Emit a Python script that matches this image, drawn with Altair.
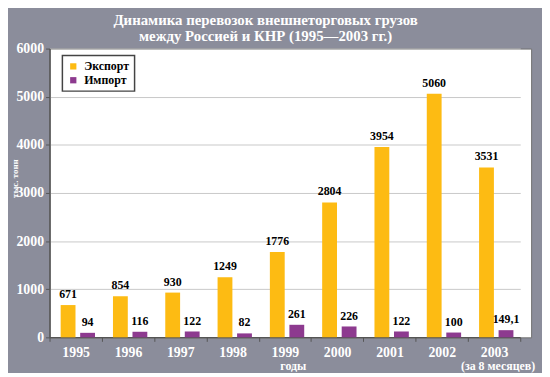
import altair as alt
import pandas as pd

years = ["1995", "1996", "1997", "1998", "1999", "2000", "2001", "2002", "2003"]
export_vals = [671, 854, 930, 1249, 1776, 2804, 3954, 5060, 3531]
import_vals = [94, 116, 122, 82, 261, 226, 122, 100, 149.1]
export_labels = ["671", "854", "930", "1249", "1776", "2804", "3954", "5060", "3531"]
import_labels = ["94", "116", "122", "82", "261", "226", "122", "100", "149,1"]
series_names = ["Экспорт", "Импорт"]
series_colors = ["#fdbb13", "#8d3a8f"]
y_ticks = [0, 1000, 2000, 3000, 4000, 5000, 6000]
title_lines = ["Динамика перевозок внешнеторговых грузов",
               "между Россией и КНР (1995—2003 гг.)"]
x_title = "годы"
y_title = "тыс. тонн"
note_year = ["2003"]
note_text = ["(за 8 месяцев)"]

rows = []
for i, yr in enumerate(years):
    rows.append({"year": yr, "series": series_names[0], "value": export_vals[i], "label": export_labels[i]})
    rows.append({"year": yr, "series": series_names[1], "value": import_vals[i], "label": import_labels[i]})
df = pd.DataFrame(rows)
notes = pd.DataFrame({"year": note_year, "note": note_text})

FONT = "Liberation Serif"
W_BAND = 476
W = 487
H = 292

x_enc = alt.X(
    "year:N", sort=years,
    scale=alt.Scale(range=[0, W_BAND], paddingInner=0, paddingOuter=0),
    axis=alt.Axis(
        title=x_title, labelAngle=0, tickBand="extent", tickSize=4,
        labelPadding=4, domainColor="#555555", domainWidth=1.5,
        tickColor="#555555", titleX=246, titleY=29,
        titleAlign="center", titleBaseline="middle",
    ),
)
xoff_enc = alt.XOffset(
    "series:N", sort=series_names,
    scale=alt.Scale(paddingInner=0.24, paddingOuter=0.46, align=0.62),
)
y_enc = alt.Y(
    "value:Q",
    scale=alt.Scale(domain=[0, 6000], nice=False),
    axis=alt.Axis(
        values=y_ticks, format="d", title=y_title, tickSize=4, labelPadding=2,
        domainColor="#555555", domainWidth=1.5, tickColor="#555555",
        gridColor="#c8c8c8", titleAngle=270, titleX=-35, titleY=131,
        titleAlign="center", titleBaseline="middle", titleFontSize=9,
    ),
)

base = alt.Chart(df)
bars = base.mark_bar().encode(
    x=x_enc,
    xOffset=xoff_enc,
    y=y_enc,
    color=alt.Color(
        "series:N", sort=series_names,
        scale=alt.Scale(domain=series_names, range=series_colors),
        legend=alt.Legend(
            title=None, orient="none", legendX=13, legendY=7,
            fillColor="white", strokeColor="#444444",
            padding=5, rowPadding=2, symbolType="square", symbolSize=40,
            symbolStrokeWidth=0, labelFont=FONT, labelFontSize=12,
            labelFontWeight="bold", labelColor="black", labelOffset=5,
        ),
    ),
)
labels = base.mark_text(
    baseline="bottom", dy=-4, font=FONT, fontSize=12, fontWeight="bold", color="black"
).encode(
    x=alt.X("year:N", sort=years),
    xOffset=alt.XOffset("series:N", sort=series_names),
    y="value:Q",
    text="label:N",
)
note = alt.Chart(notes).mark_text(
    baseline="middle", dx=4, font=FONT, fontSize=12, fontWeight="bold", color="white"
).encode(
    x=alt.X("year:N", sort=years),
    y=alt.value(321),
    text="note:N",
)

chart = alt.layer(bars, labels, note).properties(
    width=W, height=H,
    padding={"left": 42, "top": 39, "right": 11, "bottom": 34},
    autosize=alt.AutoSizeParams(type="none"),
    background="#8b8d9b",
    title=alt.TitleParams(
        text=title_lines, font=FONT, fontSize=15, fontWeight="bold",
        color="white", anchor="middle", frame="group", dx=-25,
        lineHeight=16, offset=-2,
    ),
).configure_view(
    fill="white", stroke="#707070", strokeWidth=1,
).configure_axis(
    labelFont=FONT, labelFontSize=14, labelFontWeight="bold", labelColor="white",
    titleFont=FONT, titleFontSize=12, titleFontWeight="bold", titleColor="white",
).configure_legend(
    strokeWidth=1.5, cornerRadius=0,
)

chart.save("out.html", embed_options={"renderer": "svg", "actions": False})
